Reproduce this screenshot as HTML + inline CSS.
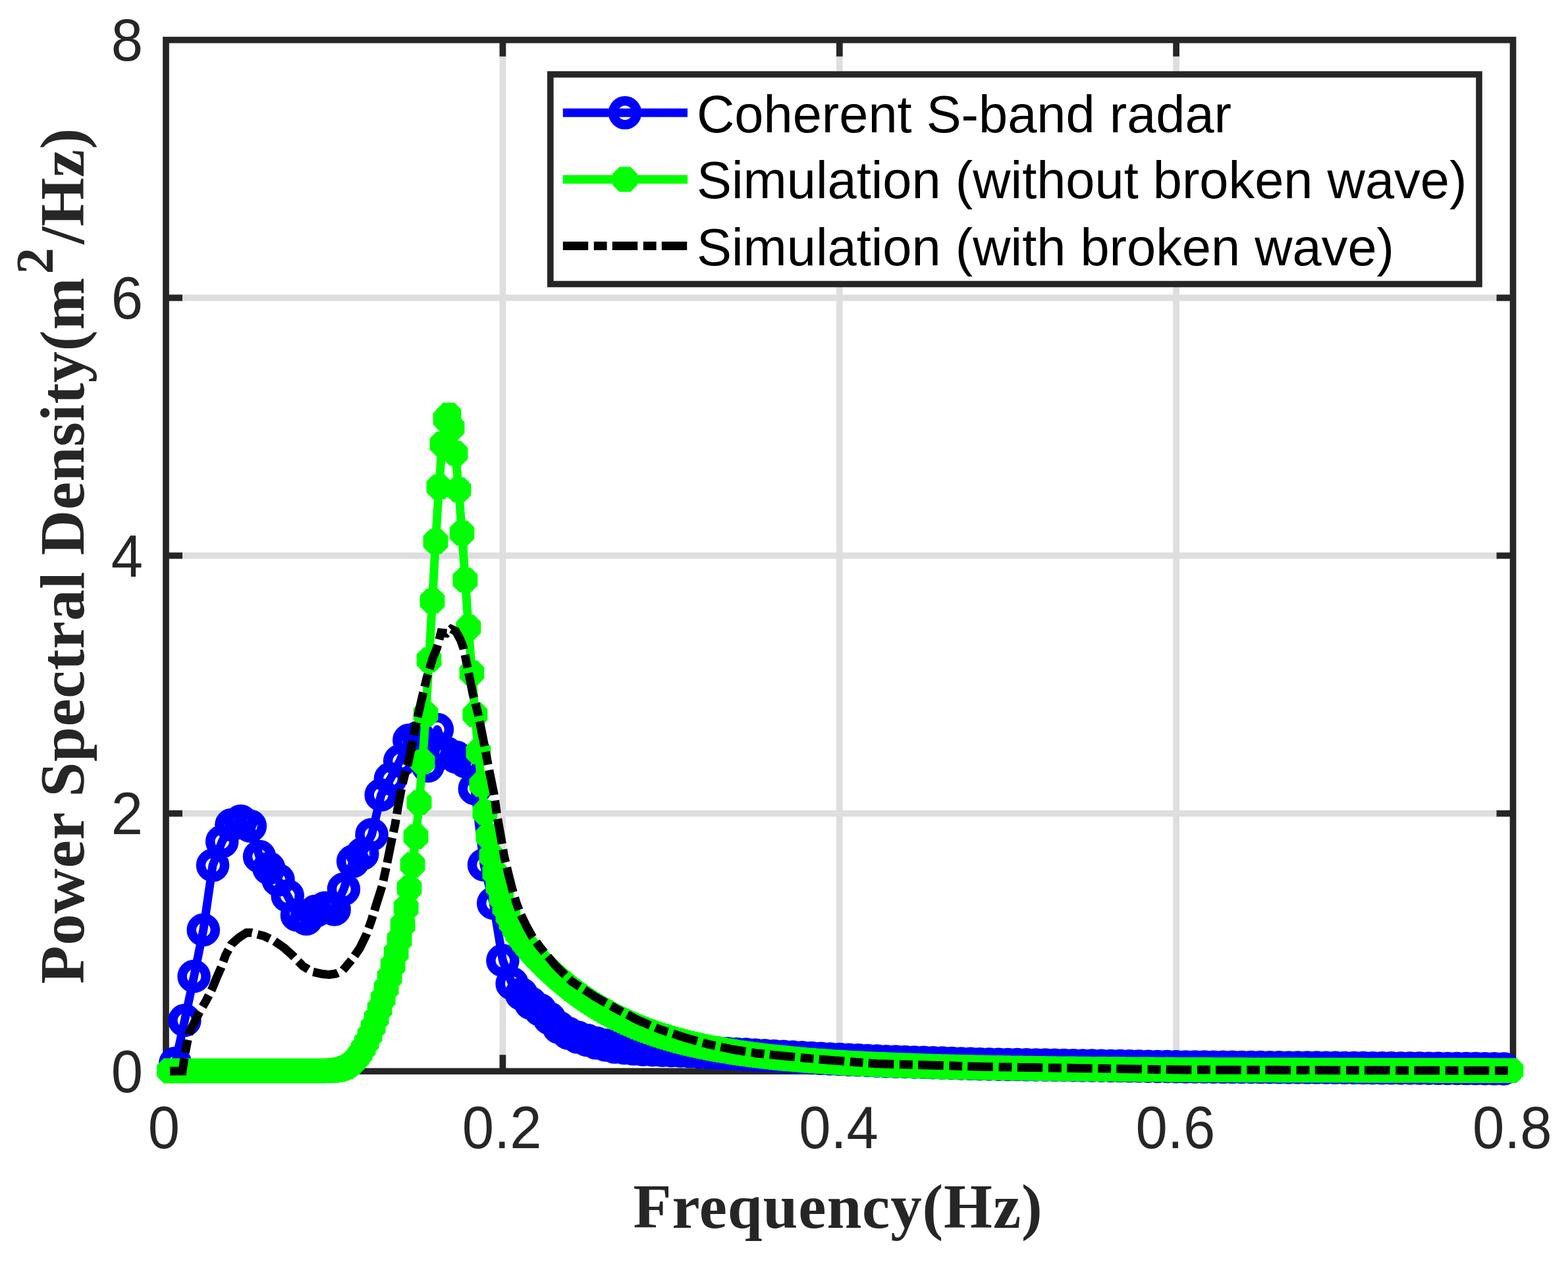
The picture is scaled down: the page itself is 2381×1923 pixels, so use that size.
<!DOCTYPE html><html><head><meta charset="utf-8"><title>PSD</title>
<style>html,body{margin:0;padding:0;background:#fff;}svg{display:block;}.tk{font-family:"Liberation Sans",Arial,sans-serif;font-size:90px;fill:#262626;}.lg{font-family:"Liberation Sans",Arial,sans-serif;font-size:79.4px;fill:#000;}.al{font-family:"Liberation Serif","Times New Roman",serif;font-weight:bold;font-size:95px;fill:#262626;}</style></head><body>
<svg xmlns="http://www.w3.org/2000/svg" width="2381" height="1923" viewBox="0 0 2381 1923">
<rect x="0" y="0" width="2381" height="1923" fill="#fff"/>
<path d="M763.4 60.7V1627.2M1274.8 60.7V1627.2M1786.1 60.7V1627.2M252 1235.6H2297.5M252 844H2297.5M252 452.3H2297.5" stroke="#dedede" stroke-width="9.7" fill="none"/>
<path d="M763.4 1627.2v-25M763.4 60.7v25M1274.8 1627.2v-25M1274.8 60.7v25M1786.1 1627.2v-25M1786.1 60.7v25M252 1235.6h25M2297.5 1235.6h-25M252 844h25M2297.5 844h-25M252 452.3h25M2297.5 452.3h-25" stroke="#262626" stroke-width="9.7" fill="none"/>
<rect x="252" y="60.7" width="2045.5" height="1566.5" stroke="#262626" stroke-width="9.7" fill="none"/>
<text class="tk" transform="translate(249 1744) scale(0.965 1)" text-anchor="middle">0</text>
<text class="tk" transform="translate(762.2 1744) scale(0.965 1)" text-anchor="middle">0.2</text>
<text class="tk" transform="translate(1273.5 1744) scale(0.965 1)" text-anchor="middle">0.4</text>
<text class="tk" transform="translate(1784.9 1744) scale(0.965 1)" text-anchor="middle">0.6</text>
<text class="tk" transform="translate(2296.3 1744) scale(0.965 1)" text-anchor="middle">0.8</text>
<text class="tk" transform="translate(217 1658.7) scale(0.965 1)" text-anchor="end">0</text>
<text class="tk" transform="translate(217 1267.1) scale(0.965 1)" text-anchor="end">2</text>
<text class="tk" transform="translate(217 875.5) scale(0.965 1)" text-anchor="end">4</text>
<text class="tk" transform="translate(217 483.8) scale(0.965 1)" text-anchor="end">6</text>
<text class="tk" transform="translate(217 92.2) scale(0.965 1)" text-anchor="end">8</text>
<text class="al" x="961.5" y="1865" letter-spacing="0.9">Frequency(Hz)</text>
<text class="al" transform="translate(126.8 1494.5) rotate(-90)" x="0" y="0" letter-spacing="0.6">Power Spectral Density(m<tspan dx="5" dy="-47" font-size="80px">2</tspan><tspan dx="5" dy="47">/Hz)</tspan></text>
<path d="M266.2 1615 280.4 1550 294.6 1483 308.8 1412.5 323 1314.3 337.2 1278.3 351.4 1253 365.6 1247.2 379.8 1254.7 394 1301 408.3 1318.8 422.5 1336.7 436.7 1360.7 450.9 1390 465.1 1396 479.3 1384 493.5 1379 507.7 1381.5 521.9 1350.6 536.1 1308.3 550.3 1297 564.5 1267.7 578.7 1207.5 592.9 1183 607.1 1156 621.3 1124.3 635.5 1120 649.7 1163.6 663.9 1108 678.1 1144 692.4 1150 706.6 1157 720.8 1198 735 1313.7 749.2 1372 763.4 1459 777.6 1494 791.8 1510 806 1524 820.2 1534 834.4 1547 848.6 1560.7 862.8 1569.4 877 1575.4 891.2 1580 905.4 1584.3 919.6 1587.5 933.8 1590.6 948 1591.9 962.2 1593.3 976.4 1594.5 990.7 1595 1004.9 1595.5 1019.1 1595.9 1033.3 1596.4 1047.5 1597.1 1061.7 1597.9 1075.9 1598.7 1090.1 1599.4 1104.3 1600.2 1118.5 1600.9 1132.7 1601.6 1146.9 1602.4 1161.1 1603.2 1175.3 1603.9 1189.5 1604.7 1203.7 1605.5 1217.9 1606.3 1232.1 1607.1 1246.3 1607.8 1260.5 1608.4 1274.8 1609.1 1289 1609.7 1303.2 1610.3 1317.4 1611 1331.6 1611.6 1345.8 1612.2 1360 1612.6 1374.2 1613 1388.4 1613.4 1402.6 1613.8 1416.8 1614.2 1431 1614.6 1445.2 1615 1459.4 1615.4 1473.6 1615.8 1487.8 1616.2 1502 1616.5 1516.2 1616.7 1530.4 1616.9 1544.6 1617.1 1558.8 1617.3 1573.1 1617.4 1587.3 1617.6 1601.5 1617.8 1615.7 1618 1629.9 1618.2 1644.1 1618.4 1658.3 1618.6 1672.5 1618.7 1686.7 1618.9 1700.9 1619.1 1715.1 1619.3 1729.3 1619.5 1743.5 1619.7 1757.7 1619.9 1771.9 1620 1786.1 1620.2 1800.3 1620.4 1814.5 1620.5 1828.7 1620.6 1842.9 1620.7 1857.1 1620.8 1871.4 1620.8 1885.6 1620.9 1899.8 1621 1914 1621.1 1928.2 1621.2 1942.4 1621.3 1956.6 1621.4 1970.8 1621.5 1985 1621.6 1999.2 1621.6 2013.4 1621.7 2027.6 1621.8 2041.8 1621.9 2056 1622 2070.2 1622.1 2084.4 1622.2 2098.6 1622.3 2112.8 1622.3 2127 1622.4 2141.2 1622.5 2155.5 1622.6 2169.7 1622.7 2183.9 1622.8 2198.1 1622.9 2212.3 1623 2226.5 1623.1 2240.7 1623.1 2254.9 1623.2 2269.1 1623.3 2283.3 1623.4 2297.5 1623.5" stroke="#0000ff" stroke-width="13" fill="none" stroke-linejoin="round"/>
<path d="M248.2 1615a18 18 0 1 0 36 0a18 18 0 1 0 -36 0M262.4 1550a18 18 0 1 0 36 0a18 18 0 1 0 -36 0M276.6 1483a18 18 0 1 0 36 0a18 18 0 1 0 -36 0M290.8 1412.5a18 18 0 1 0 36 0a18 18 0 1 0 -36 0M305 1314.3a18 18 0 1 0 36 0a18 18 0 1 0 -36 0M319.2 1278.3a18 18 0 1 0 36 0a18 18 0 1 0 -36 0M333.4 1253a18 18 0 1 0 36 0a18 18 0 1 0 -36 0M347.6 1247.2a18 18 0 1 0 36 0a18 18 0 1 0 -36 0M361.8 1254.7a18 18 0 1 0 36 0a18 18 0 1 0 -36 0M376 1301a18 18 0 1 0 36 0a18 18 0 1 0 -36 0M390.3 1318.8a18 18 0 1 0 36 0a18 18 0 1 0 -36 0M404.5 1336.7a18 18 0 1 0 36 0a18 18 0 1 0 -36 0M418.7 1360.7a18 18 0 1 0 36 0a18 18 0 1 0 -36 0M432.9 1390a18 18 0 1 0 36 0a18 18 0 1 0 -36 0M447.1 1396a18 18 0 1 0 36 0a18 18 0 1 0 -36 0M461.3 1384a18 18 0 1 0 36 0a18 18 0 1 0 -36 0M475.5 1379a18 18 0 1 0 36 0a18 18 0 1 0 -36 0M489.7 1381.5a18 18 0 1 0 36 0a18 18 0 1 0 -36 0M503.9 1350.6a18 18 0 1 0 36 0a18 18 0 1 0 -36 0M518.1 1308.3a18 18 0 1 0 36 0a18 18 0 1 0 -36 0M532.3 1297a18 18 0 1 0 36 0a18 18 0 1 0 -36 0M546.5 1267.7a18 18 0 1 0 36 0a18 18 0 1 0 -36 0M560.7 1207.5a18 18 0 1 0 36 0a18 18 0 1 0 -36 0M574.9 1183a18 18 0 1 0 36 0a18 18 0 1 0 -36 0M589.1 1156a18 18 0 1 0 36 0a18 18 0 1 0 -36 0M603.3 1124.3a18 18 0 1 0 36 0a18 18 0 1 0 -36 0M617.5 1120a18 18 0 1 0 36 0a18 18 0 1 0 -36 0M631.7 1163.6a18 18 0 1 0 36 0a18 18 0 1 0 -36 0M645.9 1108a18 18 0 1 0 36 0a18 18 0 1 0 -36 0M660.1 1144a18 18 0 1 0 36 0a18 18 0 1 0 -36 0M674.4 1150a18 18 0 1 0 36 0a18 18 0 1 0 -36 0M688.6 1157a18 18 0 1 0 36 0a18 18 0 1 0 -36 0M702.8 1198a18 18 0 1 0 36 0a18 18 0 1 0 -36 0M717 1313.7a18 18 0 1 0 36 0a18 18 0 1 0 -36 0M731.2 1372a18 18 0 1 0 36 0a18 18 0 1 0 -36 0M745.4 1459a18 18 0 1 0 36 0a18 18 0 1 0 -36 0M759.6 1494a18 18 0 1 0 36 0a18 18 0 1 0 -36 0M773.8 1510a18 18 0 1 0 36 0a18 18 0 1 0 -36 0M788 1524a18 18 0 1 0 36 0a18 18 0 1 0 -36 0M802.2 1534a18 18 0 1 0 36 0a18 18 0 1 0 -36 0M816.4 1547a18 18 0 1 0 36 0a18 18 0 1 0 -36 0M830.6 1560.7a18 18 0 1 0 36 0a18 18 0 1 0 -36 0M844.8 1569.4a18 18 0 1 0 36 0a18 18 0 1 0 -36 0M859 1575.4a18 18 0 1 0 36 0a18 18 0 1 0 -36 0M873.2 1580a18 18 0 1 0 36 0a18 18 0 1 0 -36 0M887.4 1584.3a18 18 0 1 0 36 0a18 18 0 1 0 -36 0M901.6 1587.5a18 18 0 1 0 36 0a18 18 0 1 0 -36 0M915.8 1590.6a18 18 0 1 0 36 0a18 18 0 1 0 -36 0M930 1591.9a18 18 0 1 0 36 0a18 18 0 1 0 -36 0M944.2 1593.3a18 18 0 1 0 36 0a18 18 0 1 0 -36 0M958.4 1594.5a18 18 0 1 0 36 0a18 18 0 1 0 -36 0M972.7 1595a18 18 0 1 0 36 0a18 18 0 1 0 -36 0M986.9 1595.5a18 18 0 1 0 36 0a18 18 0 1 0 -36 0M1001.1 1595.9a18 18 0 1 0 36 0a18 18 0 1 0 -36 0M1015.3 1596.4a18 18 0 1 0 36 0a18 18 0 1 0 -36 0M1029.5 1597.1a18 18 0 1 0 36 0a18 18 0 1 0 -36 0M1043.7 1597.9a18 18 0 1 0 36 0a18 18 0 1 0 -36 0M1057.9 1598.7a18 18 0 1 0 36 0a18 18 0 1 0 -36 0M1072.1 1599.4a18 18 0 1 0 36 0a18 18 0 1 0 -36 0M1086.3 1600.2a18 18 0 1 0 36 0a18 18 0 1 0 -36 0M1100.5 1600.9a18 18 0 1 0 36 0a18 18 0 1 0 -36 0M1114.7 1601.6a18 18 0 1 0 36 0a18 18 0 1 0 -36 0M1128.9 1602.4a18 18 0 1 0 36 0a18 18 0 1 0 -36 0M1143.1 1603.2a18 18 0 1 0 36 0a18 18 0 1 0 -36 0M1157.3 1603.9a18 18 0 1 0 36 0a18 18 0 1 0 -36 0M1171.5 1604.7a18 18 0 1 0 36 0a18 18 0 1 0 -36 0M1185.7 1605.5a18 18 0 1 0 36 0a18 18 0 1 0 -36 0M1199.9 1606.3a18 18 0 1 0 36 0a18 18 0 1 0 -36 0M1214.1 1607.1a18 18 0 1 0 36 0a18 18 0 1 0 -36 0M1228.3 1607.8a18 18 0 1 0 36 0a18 18 0 1 0 -36 0M1242.5 1608.4a18 18 0 1 0 36 0a18 18 0 1 0 -36 0M1256.8 1609.1a18 18 0 1 0 36 0a18 18 0 1 0 -36 0M1271 1609.7a18 18 0 1 0 36 0a18 18 0 1 0 -36 0M1285.2 1610.3a18 18 0 1 0 36 0a18 18 0 1 0 -36 0M1299.4 1611a18 18 0 1 0 36 0a18 18 0 1 0 -36 0M1313.6 1611.6a18 18 0 1 0 36 0a18 18 0 1 0 -36 0M1327.8 1612.2a18 18 0 1 0 36 0a18 18 0 1 0 -36 0M1342 1612.6a18 18 0 1 0 36 0a18 18 0 1 0 -36 0M1356.2 1613a18 18 0 1 0 36 0a18 18 0 1 0 -36 0M1370.4 1613.4a18 18 0 1 0 36 0a18 18 0 1 0 -36 0M1384.6 1613.8a18 18 0 1 0 36 0a18 18 0 1 0 -36 0M1398.8 1614.2a18 18 0 1 0 36 0a18 18 0 1 0 -36 0M1413 1614.6a18 18 0 1 0 36 0a18 18 0 1 0 -36 0M1427.2 1615a18 18 0 1 0 36 0a18 18 0 1 0 -36 0M1441.4 1615.4a18 18 0 1 0 36 0a18 18 0 1 0 -36 0M1455.6 1615.8a18 18 0 1 0 36 0a18 18 0 1 0 -36 0M1469.8 1616.2a18 18 0 1 0 36 0a18 18 0 1 0 -36 0M1484 1616.5a18 18 0 1 0 36 0a18 18 0 1 0 -36 0M1498.2 1616.7a18 18 0 1 0 36 0a18 18 0 1 0 -36 0M1512.4 1616.9a18 18 0 1 0 36 0a18 18 0 1 0 -36 0M1526.6 1617.1a18 18 0 1 0 36 0a18 18 0 1 0 -36 0M1540.8 1617.3a18 18 0 1 0 36 0a18 18 0 1 0 -36 0M1555.1 1617.4a18 18 0 1 0 36 0a18 18 0 1 0 -36 0M1569.3 1617.6a18 18 0 1 0 36 0a18 18 0 1 0 -36 0M1583.5 1617.8a18 18 0 1 0 36 0a18 18 0 1 0 -36 0M1597.7 1618a18 18 0 1 0 36 0a18 18 0 1 0 -36 0M1611.9 1618.2a18 18 0 1 0 36 0a18 18 0 1 0 -36 0M1626.1 1618.4a18 18 0 1 0 36 0a18 18 0 1 0 -36 0M1640.3 1618.6a18 18 0 1 0 36 0a18 18 0 1 0 -36 0M1654.5 1618.7a18 18 0 1 0 36 0a18 18 0 1 0 -36 0M1668.7 1618.9a18 18 0 1 0 36 0a18 18 0 1 0 -36 0M1682.9 1619.1a18 18 0 1 0 36 0a18 18 0 1 0 -36 0M1697.1 1619.3a18 18 0 1 0 36 0a18 18 0 1 0 -36 0M1711.3 1619.5a18 18 0 1 0 36 0a18 18 0 1 0 -36 0M1725.5 1619.7a18 18 0 1 0 36 0a18 18 0 1 0 -36 0M1739.7 1619.9a18 18 0 1 0 36 0a18 18 0 1 0 -36 0M1753.9 1620a18 18 0 1 0 36 0a18 18 0 1 0 -36 0M1768.1 1620.2a18 18 0 1 0 36 0a18 18 0 1 0 -36 0M1782.3 1620.4a18 18 0 1 0 36 0a18 18 0 1 0 -36 0M1796.5 1620.5a18 18 0 1 0 36 0a18 18 0 1 0 -36 0M1810.7 1620.6a18 18 0 1 0 36 0a18 18 0 1 0 -36 0M1824.9 1620.7a18 18 0 1 0 36 0a18 18 0 1 0 -36 0M1839.1 1620.8a18 18 0 1 0 36 0a18 18 0 1 0 -36 0M1853.4 1620.8a18 18 0 1 0 36 0a18 18 0 1 0 -36 0M1867.6 1620.9a18 18 0 1 0 36 0a18 18 0 1 0 -36 0M1881.8 1621a18 18 0 1 0 36 0a18 18 0 1 0 -36 0M1896 1621.1a18 18 0 1 0 36 0a18 18 0 1 0 -36 0M1910.2 1621.2a18 18 0 1 0 36 0a18 18 0 1 0 -36 0M1924.4 1621.3a18 18 0 1 0 36 0a18 18 0 1 0 -36 0M1938.6 1621.4a18 18 0 1 0 36 0a18 18 0 1 0 -36 0M1952.8 1621.5a18 18 0 1 0 36 0a18 18 0 1 0 -36 0M1967 1621.6a18 18 0 1 0 36 0a18 18 0 1 0 -36 0M1981.2 1621.6a18 18 0 1 0 36 0a18 18 0 1 0 -36 0M1995.4 1621.7a18 18 0 1 0 36 0a18 18 0 1 0 -36 0M2009.6 1621.8a18 18 0 1 0 36 0a18 18 0 1 0 -36 0M2023.8 1621.9a18 18 0 1 0 36 0a18 18 0 1 0 -36 0M2038 1622a18 18 0 1 0 36 0a18 18 0 1 0 -36 0M2052.2 1622.1a18 18 0 1 0 36 0a18 18 0 1 0 -36 0M2066.4 1622.2a18 18 0 1 0 36 0a18 18 0 1 0 -36 0M2080.6 1622.3a18 18 0 1 0 36 0a18 18 0 1 0 -36 0M2094.8 1622.3a18 18 0 1 0 36 0a18 18 0 1 0 -36 0M2109 1622.4a18 18 0 1 0 36 0a18 18 0 1 0 -36 0M2123.2 1622.5a18 18 0 1 0 36 0a18 18 0 1 0 -36 0M2137.5 1622.6a18 18 0 1 0 36 0a18 18 0 1 0 -36 0M2151.7 1622.7a18 18 0 1 0 36 0a18 18 0 1 0 -36 0M2165.9 1622.8a18 18 0 1 0 36 0a18 18 0 1 0 -36 0M2180.1 1622.9a18 18 0 1 0 36 0a18 18 0 1 0 -36 0M2194.3 1623a18 18 0 1 0 36 0a18 18 0 1 0 -36 0M2208.5 1623.1a18 18 0 1 0 36 0a18 18 0 1 0 -36 0M2222.7 1623.1a18 18 0 1 0 36 0a18 18 0 1 0 -36 0M2236.9 1623.2a18 18 0 1 0 36 0a18 18 0 1 0 -36 0M2251.1 1623.3a18 18 0 1 0 36 0a18 18 0 1 0 -36 0M2265.3 1623.4a18 18 0 1 0 36 0a18 18 0 1 0 -36 0" stroke="#0000ff" stroke-width="14.5" fill="none"/>
<path d="M257 1626.5 262 1626.5 267 1626.5 272 1626.5 277 1626.5 282 1626.5 287 1626.5 292 1626.5 296.9 1626.5 301.9 1626.5 306.9 1626.5 311.9 1626.5 316.9 1626.5 321.9 1626.5 326.9 1626.5 331.9 1626.5 336.9 1626.5 341.9 1626.5 346.9 1626.5 351.9 1626.5 356.9 1626.5 361.9 1626.5 366.9 1626.5 371.9 1626.5 376.8 1626.5 381.8 1626.5 386.8 1626.5 391.8 1626.5 396.8 1626.5 401.8 1626.5 406.8 1626.5 411.8 1626.5 416.8 1626.5 421.8 1626.5 426.8 1626.5 431.8 1626.5 436.8 1626.5 441.8 1626.5 446.8 1626.5 451.8 1626.5 456.7 1626.5 461.7 1626.5 466.7 1626.5 471.7 1626.5 476.7 1626.5 481.7 1626.5 486.7 1626.5 491.7 1626.4 496.7 1626.4 501.7 1626.2 506.7 1625.8 511.7 1625.2 516.7 1624.3 521.7 1622.7 526.7 1620.5 531.7 1617.3 536.7 1613.1 541.6 1607.7 546.6 1600.9 551.6 1592.7 556.6 1583.2 561.6 1572.2 566.6 1560 571.6 1546.7 576.6 1532.3 581.6 1517.1 586.6 1501 591.6 1484.2 596.6 1466.5 601.6 1447.6 606.6 1427.2 611.6 1404.7 616.6 1379 621.5 1349.1 626.5 1313.5 631.5 1270.8 636.5 1219.1 641.5 1157.4 646.5 1084.8 651.5 1002.3 656.5 912.9 661.5 822.5 666.5 739.6 671.5 674.4 676.5 636.3 681.5 630.5 686.5 649.5 691.5 688.7 696.5 743.9 701.5 809.8 706.4 881.1 711.4 953 716.4 1022 721.4 1085.5 726.4 1142.2 731.4 1191.7 736.4 1234.1 741.4 1270 746.4 1300.2 751.4 1325.4 756.4 1346.4 761.4 1364 766.4 1378.8 771.4 1391.3 776.4 1402 781.4 1411.4 786.3 1419.6 791.3 1427 796.3 1433.8 801.3 1440.1 806.3 1446 811.3 1451.5 816.3 1456.9 821.3 1462 826.3 1467 831.3 1471.8 836.3 1476.4 841.3 1481 846.3 1485.4 851.3 1489.7 856.3 1493.8 861.3 1497.9 866.2 1501.8 871.2 1505.7 876.2 1509.4 881.2 1513 886.2 1516.4 891.2 1519.8 896.2 1523.1 901.2 1526.3 906.2 1529.4 911.2 1532.4 916.2 1535.2 921.2 1538 926.2 1540.7 931.2 1543.4 936.2 1545.9 941.2 1548.3 946.2 1550.7 951.1 1553 956.1 1555.2 961.1 1557.4 966.1 1559.5 971.1 1561.5 976.1 1563.4 981.1 1565.3 986.1 1567.1 991.1 1568.9 996.1 1570.6 1001.1 1572.2 1006.1 1573.8 1011.1 1575.3 1016.1 1576.8 1021.1 1578.3 1026.1 1579.7 1031 1581 1036 1582.3 1041 1583.6 1046 1584.8 1051 1586 1056 1587.1 1061 1588.2 1066 1589.3 1071 1590.3 1076 1591.3 1081 1592.3 1086 1593.3 1091 1594.2 1096 1595 1101 1595.9 1106 1596.7 1111 1597.5 1115.9 1598.3 1120.9 1599.1 1125.9 1599.8 1130.9 1600.5 1135.9 1601.2 1140.9 1601.9 1145.9 1602.5 1150.9 1603.1 1155.9 1603.7 1160.9 1604.3 1165.9 1604.9 1170.9 1605.4 1175.9 1606 1180.9 1606.5 1185.9 1607 1190.9 1607.5 1195.8 1608 1200.8 1608.4 1205.8 1608.9 1210.8 1609.3 1215.8 1609.7 1220.8 1610.2 1225.8 1610.6 1230.8 1610.9 1235.8 1611.3 1240.8 1611.7 1245.8 1612 1250.8 1612.4 1255.8 1612.7 1260.8 1613.1 1265.8 1613.4 1270.8 1613.7 1275.7 1614 1280.7 1614.3 1285.7 1614.6 1290.7 1614.8 1295.7 1615.1 1300.7 1615.4 1305.7 1615.6 1310.7 1615.9 1315.7 1616.1 1320.7 1616.3 1325.7 1616.6 1330.7 1616.8 1335.7 1617 1340.7 1617.2 1345.7 1617.4 1350.7 1617.6 1355.7 1617.8 1360.6 1618 1365.6 1618.2 1370.6 1618.4 1375.6 1618.5 1380.6 1618.7 1385.6 1618.9 1390.6 1619 1395.6 1619.2 1400.6 1619.4 1405.6 1619.5 1410.6 1619.7 1415.6 1619.8 1420.6 1619.9 1425.6 1620.1 1430.6 1620.2 1435.6 1620.3 1440.5 1620.5 1445.5 1620.6 1450.5 1620.7 1455.5 1620.8 1460.5 1620.9 1465.5 1621 1470.5 1621.2 1475.5 1621.3 1480.5 1621.4 1485.5 1621.5 1490.5 1621.6 1495.5 1621.7 1500.5 1621.8 1505.5 1621.9 1510.5 1621.9 1515.5 1622 1520.4 1622.1 1525.4 1622.2 1530.4 1622.3 1535.4 1622.4 1540.4 1622.4 1545.4 1622.5 1550.4 1622.6 1555.4 1622.7 1560.4 1622.7 1565.4 1622.8 1570.4 1622.9 1575.4 1622.9 1580.4 1623 1585.4 1623.1 1590.4 1623.1 1595.4 1623.2 1600.4 1623.3 1605.3 1623.3 1610.3 1623.4 1615.3 1623.4 1620.3 1623.5 1625.3 1623.5 1630.3 1623.6 1635.3 1623.6 1640.3 1623.7 1645.3 1623.7 1650.3 1623.8 1655.3 1623.8 1660.3 1623.9 1665.3 1623.9 1670.3 1624 1675.3 1624 1680.3 1624.1 1685.2 1624.1 1690.2 1624.1 1695.2 1624.2 1700.2 1624.2 1705.2 1624.3 1710.2 1624.3 1715.2 1624.3 1720.2 1624.4 1725.2 1624.4 1730.2 1624.4 1735.2 1624.5 1740.2 1624.5 1745.2 1624.5 1750.2 1624.6 1755.2 1624.6 1760.2 1624.6 1765.2 1624.7 1770.1 1624.7 1775.1 1624.7 1780.1 1624.8 1785.1 1624.8 1790.1 1624.8 1795.1 1624.8 1800.1 1624.9 1805.1 1624.9 1810.1 1624.9 1815.1 1624.9 1820.1 1625 1825.1 1625 1830.1 1625 1835.1 1625 1840.1 1625.1 1845.1 1625.1 1850 1625.1 1855 1625.1 1860 1625.1 1865 1625.2 1870 1625.2 1875 1625.2 1880 1625.2 1885 1625.2 1890 1625.3 1895 1625.3 1900 1625.3 1905 1625.3 1910 1625.3 1915 1625.4 1920 1625.4 1925 1625.4 1929.9 1625.4 1934.9 1625.4 1939.9 1625.4 1944.9 1625.5 1949.9 1625.5 1954.9 1625.5 1959.9 1625.5 1964.9 1625.5 1969.9 1625.5 1974.9 1625.5 1979.9 1625.6 1984.9 1625.6 1989.9 1625.6 1994.9 1625.6 1999.9 1625.6 2004.9 1625.6 2009.9 1625.6 2014.8 1625.6 2019.8 1625.7 2024.8 1625.7 2029.8 1625.7 2034.8 1625.7 2039.8 1625.7 2044.8 1625.7 2049.8 1625.7 2054.8 1625.7 2059.8 1625.7 2064.8 1625.8 2069.8 1625.8 2074.8 1625.8 2079.8 1625.8 2084.8 1625.8 2089.8 1625.8 2094.7 1625.8 2099.7 1625.8 2104.7 1625.8 2109.7 1625.8 2114.7 1625.9 2119.7 1625.9 2124.7 1625.9 2129.7 1625.9 2134.7 1625.9 2139.7 1625.9 2144.7 1625.9 2149.7 1625.9 2154.7 1625.9 2159.7 1625.9 2164.7 1625.9 2169.7 1625.9 2174.7 1625.9 2179.6 1626 2184.6 1626 2189.6 1626 2194.6 1626 2199.6 1626 2204.6 1626 2209.6 1626 2214.6 1626 2219.6 1626 2224.6 1626 2229.6 1626 2234.6 1626 2239.6 1626 2244.6 1626 2249.6 1626 2254.6 1626 2259.5 1626.1 2264.5 1626.1 2269.5 1626.1 2274.5 1626.1 2279.5 1626.1 2284.5 1626.1 2289.5 1626.1 2294.5 1626.1 2297.5 1626.1" stroke="#00ff00" stroke-width="13" fill="none" stroke-linejoin="round"/>
<path d="M248.5 1607.6h17l10.4 10.4v17l-10.4 10.4h-17l-10.4 -10.4v-17l10.4 -10.4zM253.5 1607.6h17l10.4 10.4v17l-10.4 10.4h-17l-10.4 -10.4v-17l10.4 -10.4zM258.5 1607.6h17l10.4 10.4v17l-10.4 10.4h-17l-10.4 -10.4v-17l10.4 -10.4zM263.5 1607.6h17l10.4 10.4v17l-10.4 10.4h-17l-10.4 -10.4v-17l10.4 -10.4zM268.5 1607.6h17l10.4 10.4v17l-10.4 10.4h-17l-10.4 -10.4v-17l10.4 -10.4zM273.5 1607.6h17l10.4 10.4v17l-10.4 10.4h-17l-10.4 -10.4v-17l10.4 -10.4zM278.5 1607.6h17l10.4 10.4v17l-10.4 10.4h-17l-10.4 -10.4v-17l10.4 -10.4zM283.5 1607.6h17l10.4 10.4v17l-10.4 10.4h-17l-10.4 -10.4v-17l10.4 -10.4zM288.4 1607.6h17l10.4 10.4v17l-10.4 10.4h-17l-10.4 -10.4v-17l10.4 -10.4zM293.4 1607.6h17l10.4 10.4v17l-10.4 10.4h-17l-10.4 -10.4v-17l10.4 -10.4zM298.4 1607.6h17l10.4 10.4v17l-10.4 10.4h-17l-10.4 -10.4v-17l10.4 -10.4zM303.4 1607.6h17l10.4 10.4v17l-10.4 10.4h-17l-10.4 -10.4v-17l10.4 -10.4zM308.4 1607.6h17l10.4 10.4v17l-10.4 10.4h-17l-10.4 -10.4v-17l10.4 -10.4zM313.4 1607.6h17l10.4 10.4v17l-10.4 10.4h-17l-10.4 -10.4v-17l10.4 -10.4zM318.4 1607.6h17l10.4 10.4v17l-10.4 10.4h-17l-10.4 -10.4v-17l10.4 -10.4zM323.4 1607.6h17l10.4 10.4v17l-10.4 10.4h-17l-10.4 -10.4v-17l10.4 -10.4zM328.4 1607.6h17l10.4 10.4v17l-10.4 10.4h-17l-10.4 -10.4v-17l10.4 -10.4zM333.4 1607.6h17l10.4 10.4v17l-10.4 10.4h-17l-10.4 -10.4v-17l10.4 -10.4zM338.4 1607.6h17l10.4 10.4v17l-10.4 10.4h-17l-10.4 -10.4v-17l10.4 -10.4zM343.4 1607.6h17l10.4 10.4v17l-10.4 10.4h-17l-10.4 -10.4v-17l10.4 -10.4zM348.4 1607.6h17l10.4 10.4v17l-10.4 10.4h-17l-10.4 -10.4v-17l10.4 -10.4zM353.4 1607.6h17l10.4 10.4v17l-10.4 10.4h-17l-10.4 -10.4v-17l10.4 -10.4zM358.4 1607.6h17l10.4 10.4v17l-10.4 10.4h-17l-10.4 -10.4v-17l10.4 -10.4zM363.4 1607.6h17l10.4 10.4v17l-10.4 10.4h-17l-10.4 -10.4v-17l10.4 -10.4zM368.3 1607.6h17l10.4 10.4v17l-10.4 10.4h-17l-10.4 -10.4v-17l10.4 -10.4zM373.3 1607.6h17l10.4 10.4v17l-10.4 10.4h-17l-10.4 -10.4v-17l10.4 -10.4zM378.3 1607.6h17l10.4 10.4v17l-10.4 10.4h-17l-10.4 -10.4v-17l10.4 -10.4zM383.3 1607.6h17l10.4 10.4v17l-10.4 10.4h-17l-10.4 -10.4v-17l10.4 -10.4zM388.3 1607.6h17l10.4 10.4v17l-10.4 10.4h-17l-10.4 -10.4v-17l10.4 -10.4zM393.3 1607.6h17l10.4 10.4v17l-10.4 10.4h-17l-10.4 -10.4v-17l10.4 -10.4zM398.3 1607.6h17l10.4 10.4v17l-10.4 10.4h-17l-10.4 -10.4v-17l10.4 -10.4zM403.3 1607.6h17l10.4 10.4v17l-10.4 10.4h-17l-10.4 -10.4v-17l10.4 -10.4zM408.3 1607.6h17l10.4 10.4v17l-10.4 10.4h-17l-10.4 -10.4v-17l10.4 -10.4zM413.3 1607.6h17l10.4 10.4v17l-10.4 10.4h-17l-10.4 -10.4v-17l10.4 -10.4zM418.3 1607.6h17l10.4 10.4v17l-10.4 10.4h-17l-10.4 -10.4v-17l10.4 -10.4zM423.3 1607.6h17l10.4 10.4v17l-10.4 10.4h-17l-10.4 -10.4v-17l10.4 -10.4zM428.3 1607.6h17l10.4 10.4v17l-10.4 10.4h-17l-10.4 -10.4v-17l10.4 -10.4zM433.3 1607.6h17l10.4 10.4v17l-10.4 10.4h-17l-10.4 -10.4v-17l10.4 -10.4zM438.3 1607.6h17l10.4 10.4v17l-10.4 10.4h-17l-10.4 -10.4v-17l10.4 -10.4zM443.3 1607.6h17l10.4 10.4v17l-10.4 10.4h-17l-10.4 -10.4v-17l10.4 -10.4zM448.2 1607.6h17l10.4 10.4v17l-10.4 10.4h-17l-10.4 -10.4v-17l10.4 -10.4zM453.2 1607.6h17l10.4 10.4v17l-10.4 10.4h-17l-10.4 -10.4v-17l10.4 -10.4zM458.2 1607.6h17l10.4 10.4v17l-10.4 10.4h-17l-10.4 -10.4v-17l10.4 -10.4zM463.2 1607.6h17l10.4 10.4v17l-10.4 10.4h-17l-10.4 -10.4v-17l10.4 -10.4zM468.2 1607.6h17l10.4 10.4v17l-10.4 10.4h-17l-10.4 -10.4v-17l10.4 -10.4zM473.2 1607.6h17l10.4 10.4v17l-10.4 10.4h-17l-10.4 -10.4v-17l10.4 -10.4zM478.2 1607.6h17l10.4 10.4v17l-10.4 10.4h-17l-10.4 -10.4v-17l10.4 -10.4zM483.2 1607.5h17l10.4 10.4v17l-10.4 10.4h-17l-10.4 -10.4v-17l10.4 -10.4zM488.2 1607.5h17l10.4 10.4v17l-10.4 10.4h-17l-10.4 -10.4v-17l10.4 -10.4zM493.2 1607.3h17l10.4 10.4v17l-10.4 10.4h-17l-10.4 -10.4v-17l10.4 -10.4zM498.2 1606.9h17l10.4 10.4v17l-10.4 10.4h-17l-10.4 -10.4v-17l10.4 -10.4zM503.2 1606.3h17l10.4 10.4v17l-10.4 10.4h-17l-10.4 -10.4v-17l10.4 -10.4zM508.2 1605.4h17l10.4 10.4v17l-10.4 10.4h-17l-10.4 -10.4v-17l10.4 -10.4zM513.2 1603.8h17l10.4 10.4v17l-10.4 10.4h-17l-10.4 -10.4v-17l10.4 -10.4zM518.2 1601.6h17l10.4 10.4v17l-10.4 10.4h-17l-10.4 -10.4v-17l10.4 -10.4zM523.2 1598.4h17l10.4 10.4v17l-10.4 10.4h-17l-10.4 -10.4v-17l10.4 -10.4zM528.2 1594.2h17l10.4 10.4v17l-10.4 10.4h-17l-10.4 -10.4v-17l10.4 -10.4zM533.1 1588.8h17l10.4 10.4v17l-10.4 10.4h-17l-10.4 -10.4v-17l10.4 -10.4zM538.1 1582h17l10.4 10.4v17l-10.4 10.4h-17l-10.4 -10.4v-17l10.4 -10.4zM543.1 1573.8h17l10.4 10.4v17l-10.4 10.4h-17l-10.4 -10.4v-17l10.4 -10.4zM548.1 1564.3h17l10.4 10.4v17l-10.4 10.4h-17l-10.4 -10.4v-17l10.4 -10.4zM553.1 1553.3h17l10.4 10.4v17l-10.4 10.4h-17l-10.4 -10.4v-17l10.4 -10.4zM558.1 1541.1h17l10.4 10.4v17l-10.4 10.4h-17l-10.4 -10.4v-17l10.4 -10.4zM563.1 1527.8h17l10.4 10.4v17l-10.4 10.4h-17l-10.4 -10.4v-17l10.4 -10.4zM568.1 1513.4h17l10.4 10.4v17l-10.4 10.4h-17l-10.4 -10.4v-17l10.4 -10.4zM573.1 1498.2h17l10.4 10.4v17l-10.4 10.4h-17l-10.4 -10.4v-17l10.4 -10.4zM578.1 1482.1h17l10.4 10.4v17l-10.4 10.4h-17l-10.4 -10.4v-17l10.4 -10.4zM583.1 1465.3h17l10.4 10.4v17l-10.4 10.4h-17l-10.4 -10.4v-17l10.4 -10.4zM588.1 1447.6h17l10.4 10.4v17l-10.4 10.4h-17l-10.4 -10.4v-17l10.4 -10.4zM593.1 1428.7h17l10.4 10.4v17l-10.4 10.4h-17l-10.4 -10.4v-17l10.4 -10.4zM598.1 1408.3h17l10.4 10.4v17l-10.4 10.4h-17l-10.4 -10.4v-17l10.4 -10.4zM603.1 1385.8h17l10.4 10.4v17l-10.4 10.4h-17l-10.4 -10.4v-17l10.4 -10.4zM608.1 1360.1h17l10.4 10.4v17l-10.4 10.4h-17l-10.4 -10.4v-17l10.4 -10.4zM613 1330.2h17l10.4 10.4v17l-10.4 10.4h-17l-10.4 -10.4v-17l10.4 -10.4zM618 1294.6h17l10.4 10.4v17l-10.4 10.4h-17l-10.4 -10.4v-17l10.4 -10.4zM623 1251.9h17l10.4 10.4v17l-10.4 10.4h-17l-10.4 -10.4v-17l10.4 -10.4zM628 1200.2h17l10.4 10.4v17l-10.4 10.4h-17l-10.4 -10.4v-17l10.4 -10.4zM633 1138.5h17l10.4 10.4v17l-10.4 10.4h-17l-10.4 -10.4v-17l10.4 -10.4zM638 1065.9h17l10.4 10.4v17l-10.4 10.4h-17l-10.4 -10.4v-17l10.4 -10.4zM643 983.4h17l10.4 10.4v17l-10.4 10.4h-17l-10.4 -10.4v-17l10.4 -10.4zM648 894h17l10.4 10.4v17l-10.4 10.4h-17l-10.4 -10.4v-17l10.4 -10.4zM653 803.6h17l10.4 10.4v17l-10.4 10.4h-17l-10.4 -10.4v-17l10.4 -10.4zM658 720.7h17l10.4 10.4v17l-10.4 10.4h-17l-10.4 -10.4v-17l10.4 -10.4zM663 655.5h17l10.4 10.4v17l-10.4 10.4h-17l-10.4 -10.4v-17l10.4 -10.4zM668 617.4h17l10.4 10.4v17l-10.4 10.4h-17l-10.4 -10.4v-17l10.4 -10.4zM673 611.6h17l10.4 10.4v17l-10.4 10.4h-17l-10.4 -10.4v-17l10.4 -10.4zM678 630.6h17l10.4 10.4v17l-10.4 10.4h-17l-10.4 -10.4v-17l10.4 -10.4zM683 669.8h17l10.4 10.4v17l-10.4 10.4h-17l-10.4 -10.4v-17l10.4 -10.4zM688 725h17l10.4 10.4v17l-10.4 10.4h-17l-10.4 -10.4v-17l10.4 -10.4zM693 790.9h17l10.4 10.4v17l-10.4 10.4h-17l-10.4 -10.4v-17l10.4 -10.4zM697.9 862.2h17l10.4 10.4v17l-10.4 10.4h-17l-10.4 -10.4v-17l10.4 -10.4zM702.9 934.1h17l10.4 10.4v17l-10.4 10.4h-17l-10.4 -10.4v-17l10.4 -10.4zM707.9 1003.1h17l10.4 10.4v17l-10.4 10.4h-17l-10.4 -10.4v-17l10.4 -10.4zM712.9 1066.6h17l10.4 10.4v17l-10.4 10.4h-17l-10.4 -10.4v-17l10.4 -10.4zM717.9 1123.3h17l10.4 10.4v17l-10.4 10.4h-17l-10.4 -10.4v-17l10.4 -10.4zM722.9 1172.8h17l10.4 10.4v17l-10.4 10.4h-17l-10.4 -10.4v-17l10.4 -10.4zM727.9 1215.2h17l10.4 10.4v17l-10.4 10.4h-17l-10.4 -10.4v-17l10.4 -10.4zM732.9 1251.1h17l10.4 10.4v17l-10.4 10.4h-17l-10.4 -10.4v-17l10.4 -10.4zM737.9 1281.3h17l10.4 10.4v17l-10.4 10.4h-17l-10.4 -10.4v-17l10.4 -10.4zM742.9 1306.5h17l10.4 10.4v17l-10.4 10.4h-17l-10.4 -10.4v-17l10.4 -10.4zM747.9 1327.5h17l10.4 10.4v17l-10.4 10.4h-17l-10.4 -10.4v-17l10.4 -10.4zM752.9 1345.1h17l10.4 10.4v17l-10.4 10.4h-17l-10.4 -10.4v-17l10.4 -10.4zM757.9 1359.9h17l10.4 10.4v17l-10.4 10.4h-17l-10.4 -10.4v-17l10.4 -10.4zM762.9 1372.4h17l10.4 10.4v17l-10.4 10.4h-17l-10.4 -10.4v-17l10.4 -10.4zM767.9 1383.1h17l10.4 10.4v17l-10.4 10.4h-17l-10.4 -10.4v-17l10.4 -10.4zM772.9 1392.5h17l10.4 10.4v17l-10.4 10.4h-17l-10.4 -10.4v-17l10.4 -10.4zM777.8 1400.7h17l10.4 10.4v17l-10.4 10.4h-17l-10.4 -10.4v-17l10.4 -10.4zM782.8 1408.1h17l10.4 10.4v17l-10.4 10.4h-17l-10.4 -10.4v-17l10.4 -10.4zM787.8 1414.9h17l10.4 10.4v17l-10.4 10.4h-17l-10.4 -10.4v-17l10.4 -10.4zM792.8 1421.2h17l10.4 10.4v17l-10.4 10.4h-17l-10.4 -10.4v-17l10.4 -10.4zM797.8 1427.1h17l10.4 10.4v17l-10.4 10.4h-17l-10.4 -10.4v-17l10.4 -10.4zM802.8 1432.6h17l10.4 10.4v17l-10.4 10.4h-17l-10.4 -10.4v-17l10.4 -10.4zM807.8 1438h17l10.4 10.4v17l-10.4 10.4h-17l-10.4 -10.4v-17l10.4 -10.4zM812.8 1443.1h17l10.4 10.4v17l-10.4 10.4h-17l-10.4 -10.4v-17l10.4 -10.4zM817.8 1448.1h17l10.4 10.4v17l-10.4 10.4h-17l-10.4 -10.4v-17l10.4 -10.4zM822.8 1452.9h17l10.4 10.4v17l-10.4 10.4h-17l-10.4 -10.4v-17l10.4 -10.4zM827.8 1457.5h17l10.4 10.4v17l-10.4 10.4h-17l-10.4 -10.4v-17l10.4 -10.4zM832.8 1462.1h17l10.4 10.4v17l-10.4 10.4h-17l-10.4 -10.4v-17l10.4 -10.4zM837.8 1466.5h17l10.4 10.4v17l-10.4 10.4h-17l-10.4 -10.4v-17l10.4 -10.4zM842.8 1470.8h17l10.4 10.4v17l-10.4 10.4h-17l-10.4 -10.4v-17l10.4 -10.4zM847.8 1474.9h17l10.4 10.4v17l-10.4 10.4h-17l-10.4 -10.4v-17l10.4 -10.4zM852.8 1479h17l10.4 10.4v17l-10.4 10.4h-17l-10.4 -10.4v-17l10.4 -10.4zM857.7 1482.9h17l10.4 10.4v17l-10.4 10.4h-17l-10.4 -10.4v-17l10.4 -10.4zM862.7 1486.8h17l10.4 10.4v17l-10.4 10.4h-17l-10.4 -10.4v-17l10.4 -10.4zM867.7 1490.5h17l10.4 10.4v17l-10.4 10.4h-17l-10.4 -10.4v-17l10.4 -10.4zM872.7 1494.1h17l10.4 10.4v17l-10.4 10.4h-17l-10.4 -10.4v-17l10.4 -10.4zM877.7 1497.5h17l10.4 10.4v17l-10.4 10.4h-17l-10.4 -10.4v-17l10.4 -10.4zM882.7 1500.9h17l10.4 10.4v17l-10.4 10.4h-17l-10.4 -10.4v-17l10.4 -10.4zM887.7 1504.2h17l10.4 10.4v17l-10.4 10.4h-17l-10.4 -10.4v-17l10.4 -10.4zM892.7 1507.4h17l10.4 10.4v17l-10.4 10.4h-17l-10.4 -10.4v-17l10.4 -10.4zM897.7 1510.5h17l10.4 10.4v17l-10.4 10.4h-17l-10.4 -10.4v-17l10.4 -10.4zM902.7 1513.5h17l10.4 10.4v17l-10.4 10.4h-17l-10.4 -10.4v-17l10.4 -10.4zM907.7 1516.3h17l10.4 10.4v17l-10.4 10.4h-17l-10.4 -10.4v-17l10.4 -10.4zM912.7 1519.1h17l10.4 10.4v17l-10.4 10.4h-17l-10.4 -10.4v-17l10.4 -10.4zM917.7 1521.8h17l10.4 10.4v17l-10.4 10.4h-17l-10.4 -10.4v-17l10.4 -10.4zM922.7 1524.5h17l10.4 10.4v17l-10.4 10.4h-17l-10.4 -10.4v-17l10.4 -10.4zM927.7 1527h17l10.4 10.4v17l-10.4 10.4h-17l-10.4 -10.4v-17l10.4 -10.4zM932.7 1529.4h17l10.4 10.4v17l-10.4 10.4h-17l-10.4 -10.4v-17l10.4 -10.4zM937.7 1531.8h17l10.4 10.4v17l-10.4 10.4h-17l-10.4 -10.4v-17l10.4 -10.4zM942.6 1534.1h17l10.4 10.4v17l-10.4 10.4h-17l-10.4 -10.4v-17l10.4 -10.4zM947.6 1536.3h17l10.4 10.4v17l-10.4 10.4h-17l-10.4 -10.4v-17l10.4 -10.4zM952.6 1538.5h17l10.4 10.4v17l-10.4 10.4h-17l-10.4 -10.4v-17l10.4 -10.4zM957.6 1540.6h17l10.4 10.4v17l-10.4 10.4h-17l-10.4 -10.4v-17l10.4 -10.4zM962.6 1542.6h17l10.4 10.4v17l-10.4 10.4h-17l-10.4 -10.4v-17l10.4 -10.4zM967.6 1544.5h17l10.4 10.4v17l-10.4 10.4h-17l-10.4 -10.4v-17l10.4 -10.4zM972.6 1546.4h17l10.4 10.4v17l-10.4 10.4h-17l-10.4 -10.4v-17l10.4 -10.4zM977.6 1548.2h17l10.4 10.4v17l-10.4 10.4h-17l-10.4 -10.4v-17l10.4 -10.4zM982.6 1550h17l10.4 10.4v17l-10.4 10.4h-17l-10.4 -10.4v-17l10.4 -10.4zM987.6 1551.7h17l10.4 10.4v17l-10.4 10.4h-17l-10.4 -10.4v-17l10.4 -10.4zM992.6 1553.3h17l10.4 10.4v17l-10.4 10.4h-17l-10.4 -10.4v-17l10.4 -10.4zM997.6 1554.9h17l10.4 10.4v17l-10.4 10.4h-17l-10.4 -10.4v-17l10.4 -10.4zM1002.6 1556.4h17l10.4 10.4v17l-10.4 10.4h-17l-10.4 -10.4v-17l10.4 -10.4zM1007.6 1557.9h17l10.4 10.4v17l-10.4 10.4h-17l-10.4 -10.4v-17l10.4 -10.4zM1012.6 1559.4h17l10.4 10.4v17l-10.4 10.4h-17l-10.4 -10.4v-17l10.4 -10.4zM1017.6 1560.8h17l10.4 10.4v17l-10.4 10.4h-17l-10.4 -10.4v-17l10.4 -10.4zM1022.5 1562.1h17l10.4 10.4v17l-10.4 10.4h-17l-10.4 -10.4v-17l10.4 -10.4zM1027.5 1563.4h17l10.4 10.4v17l-10.4 10.4h-17l-10.4 -10.4v-17l10.4 -10.4zM1032.5 1564.7h17l10.4 10.4v17l-10.4 10.4h-17l-10.4 -10.4v-17l10.4 -10.4zM1037.5 1565.9h17l10.4 10.4v17l-10.4 10.4h-17l-10.4 -10.4v-17l10.4 -10.4zM1042.5 1567.1h17l10.4 10.4v17l-10.4 10.4h-17l-10.4 -10.4v-17l10.4 -10.4zM1047.5 1568.2h17l10.4 10.4v17l-10.4 10.4h-17l-10.4 -10.4v-17l10.4 -10.4zM1052.5 1569.3h17l10.4 10.4v17l-10.4 10.4h-17l-10.4 -10.4v-17l10.4 -10.4zM1057.5 1570.4h17l10.4 10.4v17l-10.4 10.4h-17l-10.4 -10.4v-17l10.4 -10.4zM1062.5 1571.4h17l10.4 10.4v17l-10.4 10.4h-17l-10.4 -10.4v-17l10.4 -10.4zM1067.5 1572.4h17l10.4 10.4v17l-10.4 10.4h-17l-10.4 -10.4v-17l10.4 -10.4zM1072.5 1573.4h17l10.4 10.4v17l-10.4 10.4h-17l-10.4 -10.4v-17l10.4 -10.4zM1077.5 1574.4h17l10.4 10.4v17l-10.4 10.4h-17l-10.4 -10.4v-17l10.4 -10.4zM1082.5 1575.3h17l10.4 10.4v17l-10.4 10.4h-17l-10.4 -10.4v-17l10.4 -10.4zM1087.5 1576.1h17l10.4 10.4v17l-10.4 10.4h-17l-10.4 -10.4v-17l10.4 -10.4zM1092.5 1577h17l10.4 10.4v17l-10.4 10.4h-17l-10.4 -10.4v-17l10.4 -10.4zM1097.5 1577.8h17l10.4 10.4v17l-10.4 10.4h-17l-10.4 -10.4v-17l10.4 -10.4zM1102.5 1578.6h17l10.4 10.4v17l-10.4 10.4h-17l-10.4 -10.4v-17l10.4 -10.4zM1107.4 1579.4h17l10.4 10.4v17l-10.4 10.4h-17l-10.4 -10.4v-17l10.4 -10.4zM1112.4 1580.2h17l10.4 10.4v17l-10.4 10.4h-17l-10.4 -10.4v-17l10.4 -10.4zM1117.4 1580.9h17l10.4 10.4v17l-10.4 10.4h-17l-10.4 -10.4v-17l10.4 -10.4zM1122.4 1581.6h17l10.4 10.4v17l-10.4 10.4h-17l-10.4 -10.4v-17l10.4 -10.4zM1127.4 1582.3h17l10.4 10.4v17l-10.4 10.4h-17l-10.4 -10.4v-17l10.4 -10.4zM1132.4 1583h17l10.4 10.4v17l-10.4 10.4h-17l-10.4 -10.4v-17l10.4 -10.4zM1137.4 1583.6h17l10.4 10.4v17l-10.4 10.4h-17l-10.4 -10.4v-17l10.4 -10.4zM1142.4 1584.2h17l10.4 10.4v17l-10.4 10.4h-17l-10.4 -10.4v-17l10.4 -10.4zM1147.4 1584.8h17l10.4 10.4v17l-10.4 10.4h-17l-10.4 -10.4v-17l10.4 -10.4zM1152.4 1585.4h17l10.4 10.4v17l-10.4 10.4h-17l-10.4 -10.4v-17l10.4 -10.4zM1157.4 1586h17l10.4 10.4v17l-10.4 10.4h-17l-10.4 -10.4v-17l10.4 -10.4zM1162.4 1586.5h17l10.4 10.4v17l-10.4 10.4h-17l-10.4 -10.4v-17l10.4 -10.4zM1167.4 1587.1h17l10.4 10.4v17l-10.4 10.4h-17l-10.4 -10.4v-17l10.4 -10.4zM1172.4 1587.6h17l10.4 10.4v17l-10.4 10.4h-17l-10.4 -10.4v-17l10.4 -10.4zM1177.4 1588.1h17l10.4 10.4v17l-10.4 10.4h-17l-10.4 -10.4v-17l10.4 -10.4zM1182.4 1588.6h17l10.4 10.4v17l-10.4 10.4h-17l-10.4 -10.4v-17l10.4 -10.4zM1187.3 1589.1h17l10.4 10.4v17l-10.4 10.4h-17l-10.4 -10.4v-17l10.4 -10.4zM1192.3 1589.5h17l10.4 10.4v17l-10.4 10.4h-17l-10.4 -10.4v-17l10.4 -10.4zM1197.3 1590h17l10.4 10.4v17l-10.4 10.4h-17l-10.4 -10.4v-17l10.4 -10.4zM1202.3 1590.4h17l10.4 10.4v17l-10.4 10.4h-17l-10.4 -10.4v-17l10.4 -10.4zM1207.3 1590.8h17l10.4 10.4v17l-10.4 10.4h-17l-10.4 -10.4v-17l10.4 -10.4zM1212.3 1591.3h17l10.4 10.4v17l-10.4 10.4h-17l-10.4 -10.4v-17l10.4 -10.4zM1217.3 1591.7h17l10.4 10.4v17l-10.4 10.4h-17l-10.4 -10.4v-17l10.4 -10.4zM1222.3 1592h17l10.4 10.4v17l-10.4 10.4h-17l-10.4 -10.4v-17l10.4 -10.4zM1227.3 1592.4h17l10.4 10.4v17l-10.4 10.4h-17l-10.4 -10.4v-17l10.4 -10.4zM1232.3 1592.8h17l10.4 10.4v17l-10.4 10.4h-17l-10.4 -10.4v-17l10.4 -10.4zM1237.3 1593.1h17l10.4 10.4v17l-10.4 10.4h-17l-10.4 -10.4v-17l10.4 -10.4zM1242.3 1593.5h17l10.4 10.4v17l-10.4 10.4h-17l-10.4 -10.4v-17l10.4 -10.4zM1247.3 1593.8h17l10.4 10.4v17l-10.4 10.4h-17l-10.4 -10.4v-17l10.4 -10.4zM1252.3 1594.2h17l10.4 10.4v17l-10.4 10.4h-17l-10.4 -10.4v-17l10.4 -10.4zM1257.3 1594.5h17l10.4 10.4v17l-10.4 10.4h-17l-10.4 -10.4v-17l10.4 -10.4zM1262.3 1594.8h17l10.4 10.4v17l-10.4 10.4h-17l-10.4 -10.4v-17l10.4 -10.4zM1267.2 1595.1h17l10.4 10.4v17l-10.4 10.4h-17l-10.4 -10.4v-17l10.4 -10.4zM1272.2 1595.4h17l10.4 10.4v17l-10.4 10.4h-17l-10.4 -10.4v-17l10.4 -10.4zM1277.2 1595.7h17l10.4 10.4v17l-10.4 10.4h-17l-10.4 -10.4v-17l10.4 -10.4zM1282.2 1595.9h17l10.4 10.4v17l-10.4 10.4h-17l-10.4 -10.4v-17l10.4 -10.4zM1287.2 1596.2h17l10.4 10.4v17l-10.4 10.4h-17l-10.4 -10.4v-17l10.4 -10.4zM1292.2 1596.5h17l10.4 10.4v17l-10.4 10.4h-17l-10.4 -10.4v-17l10.4 -10.4zM1297.2 1596.7h17l10.4 10.4v17l-10.4 10.4h-17l-10.4 -10.4v-17l10.4 -10.4zM1302.2 1597h17l10.4 10.4v17l-10.4 10.4h-17l-10.4 -10.4v-17l10.4 -10.4zM1307.2 1597.2h17l10.4 10.4v17l-10.4 10.4h-17l-10.4 -10.4v-17l10.4 -10.4zM1312.2 1597.4h17l10.4 10.4v17l-10.4 10.4h-17l-10.4 -10.4v-17l10.4 -10.4zM1317.2 1597.7h17l10.4 10.4v17l-10.4 10.4h-17l-10.4 -10.4v-17l10.4 -10.4zM1322.2 1597.9h17l10.4 10.4v17l-10.4 10.4h-17l-10.4 -10.4v-17l10.4 -10.4zM1327.2 1598.1h17l10.4 10.4v17l-10.4 10.4h-17l-10.4 -10.4v-17l10.4 -10.4zM1332.2 1598.3h17l10.4 10.4v17l-10.4 10.4h-17l-10.4 -10.4v-17l10.4 -10.4zM1337.2 1598.5h17l10.4 10.4v17l-10.4 10.4h-17l-10.4 -10.4v-17l10.4 -10.4zM1342.2 1598.7h17l10.4 10.4v17l-10.4 10.4h-17l-10.4 -10.4v-17l10.4 -10.4zM1347.2 1598.9h17l10.4 10.4v17l-10.4 10.4h-17l-10.4 -10.4v-17l10.4 -10.4zM1352.1 1599.1h17l10.4 10.4v17l-10.4 10.4h-17l-10.4 -10.4v-17l10.4 -10.4zM1357.1 1599.3h17l10.4 10.4v17l-10.4 10.4h-17l-10.4 -10.4v-17l10.4 -10.4zM1362.1 1599.5h17l10.4 10.4v17l-10.4 10.4h-17l-10.4 -10.4v-17l10.4 -10.4zM1367.1 1599.6h17l10.4 10.4v17l-10.4 10.4h-17l-10.4 -10.4v-17l10.4 -10.4zM1372.1 1599.8h17l10.4 10.4v17l-10.4 10.4h-17l-10.4 -10.4v-17l10.4 -10.4zM1377.1 1600h17l10.4 10.4v17l-10.4 10.4h-17l-10.4 -10.4v-17l10.4 -10.4zM1382.1 1600.1h17l10.4 10.4v17l-10.4 10.4h-17l-10.4 -10.4v-17l10.4 -10.4zM1387.1 1600.3h17l10.4 10.4v17l-10.4 10.4h-17l-10.4 -10.4v-17l10.4 -10.4zM1392.1 1600.5h17l10.4 10.4v17l-10.4 10.4h-17l-10.4 -10.4v-17l10.4 -10.4zM1397.1 1600.6h17l10.4 10.4v17l-10.4 10.4h-17l-10.4 -10.4v-17l10.4 -10.4zM1402.1 1600.8h17l10.4 10.4v17l-10.4 10.4h-17l-10.4 -10.4v-17l10.4 -10.4zM1407.1 1600.9h17l10.4 10.4v17l-10.4 10.4h-17l-10.4 -10.4v-17l10.4 -10.4zM1412.1 1601h17l10.4 10.4v17l-10.4 10.4h-17l-10.4 -10.4v-17l10.4 -10.4zM1417.1 1601.2h17l10.4 10.4v17l-10.4 10.4h-17l-10.4 -10.4v-17l10.4 -10.4zM1422.1 1601.3h17l10.4 10.4v17l-10.4 10.4h-17l-10.4 -10.4v-17l10.4 -10.4zM1427.1 1601.4h17l10.4 10.4v17l-10.4 10.4h-17l-10.4 -10.4v-17l10.4 -10.4zM1432 1601.6h17l10.4 10.4v17l-10.4 10.4h-17l-10.4 -10.4v-17l10.4 -10.4zM1437 1601.7h17l10.4 10.4v17l-10.4 10.4h-17l-10.4 -10.4v-17l10.4 -10.4zM1442 1601.8h17l10.4 10.4v17l-10.4 10.4h-17l-10.4 -10.4v-17l10.4 -10.4zM1447 1601.9h17l10.4 10.4v17l-10.4 10.4h-17l-10.4 -10.4v-17l10.4 -10.4zM1452 1602h17l10.4 10.4v17l-10.4 10.4h-17l-10.4 -10.4v-17l10.4 -10.4zM1457 1602.1h17l10.4 10.4v17l-10.4 10.4h-17l-10.4 -10.4v-17l10.4 -10.4zM1462 1602.3h17l10.4 10.4v17l-10.4 10.4h-17l-10.4 -10.4v-17l10.4 -10.4zM1467 1602.4h17l10.4 10.4v17l-10.4 10.4h-17l-10.4 -10.4v-17l10.4 -10.4zM1472 1602.5h17l10.4 10.4v17l-10.4 10.4h-17l-10.4 -10.4v-17l10.4 -10.4zM1477 1602.6h17l10.4 10.4v17l-10.4 10.4h-17l-10.4 -10.4v-17l10.4 -10.4zM1482 1602.7h17l10.4 10.4v17l-10.4 10.4h-17l-10.4 -10.4v-17l10.4 -10.4zM1487 1602.8h17l10.4 10.4v17l-10.4 10.4h-17l-10.4 -10.4v-17l10.4 -10.4zM1492 1602.9h17l10.4 10.4v17l-10.4 10.4h-17l-10.4 -10.4v-17l10.4 -10.4zM1497 1603h17l10.4 10.4v17l-10.4 10.4h-17l-10.4 -10.4v-17l10.4 -10.4zM1502 1603h17l10.4 10.4v17l-10.4 10.4h-17l-10.4 -10.4v-17l10.4 -10.4zM1507 1603.1h17l10.4 10.4v17l-10.4 10.4h-17l-10.4 -10.4v-17l10.4 -10.4zM1511.9 1603.2h17l10.4 10.4v17l-10.4 10.4h-17l-10.4 -10.4v-17l10.4 -10.4zM1516.9 1603.3h17l10.4 10.4v17l-10.4 10.4h-17l-10.4 -10.4v-17l10.4 -10.4zM1521.9 1603.4h17l10.4 10.4v17l-10.4 10.4h-17l-10.4 -10.4v-17l10.4 -10.4zM1526.9 1603.5h17l10.4 10.4v17l-10.4 10.4h-17l-10.4 -10.4v-17l10.4 -10.4zM1531.9 1603.5h17l10.4 10.4v17l-10.4 10.4h-17l-10.4 -10.4v-17l10.4 -10.4zM1536.9 1603.6h17l10.4 10.4v17l-10.4 10.4h-17l-10.4 -10.4v-17l10.4 -10.4zM1541.9 1603.7h17l10.4 10.4v17l-10.4 10.4h-17l-10.4 -10.4v-17l10.4 -10.4zM1546.9 1603.8h17l10.4 10.4v17l-10.4 10.4h-17l-10.4 -10.4v-17l10.4 -10.4zM1551.9 1603.8h17l10.4 10.4v17l-10.4 10.4h-17l-10.4 -10.4v-17l10.4 -10.4zM1556.9 1603.9h17l10.4 10.4v17l-10.4 10.4h-17l-10.4 -10.4v-17l10.4 -10.4zM1561.9 1604h17l10.4 10.4v17l-10.4 10.4h-17l-10.4 -10.4v-17l10.4 -10.4zM1566.9 1604h17l10.4 10.4v17l-10.4 10.4h-17l-10.4 -10.4v-17l10.4 -10.4zM1571.9 1604.1h17l10.4 10.4v17l-10.4 10.4h-17l-10.4 -10.4v-17l10.4 -10.4zM1576.9 1604.2h17l10.4 10.4v17l-10.4 10.4h-17l-10.4 -10.4v-17l10.4 -10.4zM1581.9 1604.2h17l10.4 10.4v17l-10.4 10.4h-17l-10.4 -10.4v-17l10.4 -10.4zM1586.9 1604.3h17l10.4 10.4v17l-10.4 10.4h-17l-10.4 -10.4v-17l10.4 -10.4zM1591.9 1604.4h17l10.4 10.4v17l-10.4 10.4h-17l-10.4 -10.4v-17l10.4 -10.4zM1596.8 1604.4h17l10.4 10.4v17l-10.4 10.4h-17l-10.4 -10.4v-17l10.4 -10.4zM1601.8 1604.5h17l10.4 10.4v17l-10.4 10.4h-17l-10.4 -10.4v-17l10.4 -10.4zM1606.8 1604.5h17l10.4 10.4v17l-10.4 10.4h-17l-10.4 -10.4v-17l10.4 -10.4zM1611.8 1604.6h17l10.4 10.4v17l-10.4 10.4h-17l-10.4 -10.4v-17l10.4 -10.4zM1616.8 1604.6h17l10.4 10.4v17l-10.4 10.4h-17l-10.4 -10.4v-17l10.4 -10.4zM1621.8 1604.7h17l10.4 10.4v17l-10.4 10.4h-17l-10.4 -10.4v-17l10.4 -10.4zM1626.8 1604.7h17l10.4 10.4v17l-10.4 10.4h-17l-10.4 -10.4v-17l10.4 -10.4zM1631.8 1604.8h17l10.4 10.4v17l-10.4 10.4h-17l-10.4 -10.4v-17l10.4 -10.4zM1636.8 1604.8h17l10.4 10.4v17l-10.4 10.4h-17l-10.4 -10.4v-17l10.4 -10.4zM1641.8 1604.9h17l10.4 10.4v17l-10.4 10.4h-17l-10.4 -10.4v-17l10.4 -10.4zM1646.8 1604.9h17l10.4 10.4v17l-10.4 10.4h-17l-10.4 -10.4v-17l10.4 -10.4zM1651.8 1605h17l10.4 10.4v17l-10.4 10.4h-17l-10.4 -10.4v-17l10.4 -10.4zM1656.8 1605h17l10.4 10.4v17l-10.4 10.4h-17l-10.4 -10.4v-17l10.4 -10.4zM1661.8 1605.1h17l10.4 10.4v17l-10.4 10.4h-17l-10.4 -10.4v-17l10.4 -10.4zM1666.8 1605.1h17l10.4 10.4v17l-10.4 10.4h-17l-10.4 -10.4v-17l10.4 -10.4zM1671.8 1605.2h17l10.4 10.4v17l-10.4 10.4h-17l-10.4 -10.4v-17l10.4 -10.4zM1676.7 1605.2h17l10.4 10.4v17l-10.4 10.4h-17l-10.4 -10.4v-17l10.4 -10.4zM1681.7 1605.2h17l10.4 10.4v17l-10.4 10.4h-17l-10.4 -10.4v-17l10.4 -10.4zM1686.7 1605.3h17l10.4 10.4v17l-10.4 10.4h-17l-10.4 -10.4v-17l10.4 -10.4zM1691.7 1605.3h17l10.4 10.4v17l-10.4 10.4h-17l-10.4 -10.4v-17l10.4 -10.4zM1696.7 1605.4h17l10.4 10.4v17l-10.4 10.4h-17l-10.4 -10.4v-17l10.4 -10.4zM1701.7 1605.4h17l10.4 10.4v17l-10.4 10.4h-17l-10.4 -10.4v-17l10.4 -10.4zM1706.7 1605.4h17l10.4 10.4v17l-10.4 10.4h-17l-10.4 -10.4v-17l10.4 -10.4zM1711.7 1605.5h17l10.4 10.4v17l-10.4 10.4h-17l-10.4 -10.4v-17l10.4 -10.4zM1716.7 1605.5h17l10.4 10.4v17l-10.4 10.4h-17l-10.4 -10.4v-17l10.4 -10.4zM1721.7 1605.5h17l10.4 10.4v17l-10.4 10.4h-17l-10.4 -10.4v-17l10.4 -10.4zM1726.7 1605.6h17l10.4 10.4v17l-10.4 10.4h-17l-10.4 -10.4v-17l10.4 -10.4zM1731.7 1605.6h17l10.4 10.4v17l-10.4 10.4h-17l-10.4 -10.4v-17l10.4 -10.4zM1736.7 1605.6h17l10.4 10.4v17l-10.4 10.4h-17l-10.4 -10.4v-17l10.4 -10.4zM1741.7 1605.7h17l10.4 10.4v17l-10.4 10.4h-17l-10.4 -10.4v-17l10.4 -10.4zM1746.7 1605.7h17l10.4 10.4v17l-10.4 10.4h-17l-10.4 -10.4v-17l10.4 -10.4zM1751.7 1605.7h17l10.4 10.4v17l-10.4 10.4h-17l-10.4 -10.4v-17l10.4 -10.4zM1756.7 1605.8h17l10.4 10.4v17l-10.4 10.4h-17l-10.4 -10.4v-17l10.4 -10.4zM1761.6 1605.8h17l10.4 10.4v17l-10.4 10.4h-17l-10.4 -10.4v-17l10.4 -10.4zM1766.6 1605.8h17l10.4 10.4v17l-10.4 10.4h-17l-10.4 -10.4v-17l10.4 -10.4zM1771.6 1605.9h17l10.4 10.4v17l-10.4 10.4h-17l-10.4 -10.4v-17l10.4 -10.4zM1776.6 1605.9h17l10.4 10.4v17l-10.4 10.4h-17l-10.4 -10.4v-17l10.4 -10.4zM1781.6 1605.9h17l10.4 10.4v17l-10.4 10.4h-17l-10.4 -10.4v-17l10.4 -10.4zM1786.6 1605.9h17l10.4 10.4v17l-10.4 10.4h-17l-10.4 -10.4v-17l10.4 -10.4zM1791.6 1606h17l10.4 10.4v17l-10.4 10.4h-17l-10.4 -10.4v-17l10.4 -10.4zM1796.6 1606h17l10.4 10.4v17l-10.4 10.4h-17l-10.4 -10.4v-17l10.4 -10.4zM1801.6 1606h17l10.4 10.4v17l-10.4 10.4h-17l-10.4 -10.4v-17l10.4 -10.4zM1806.6 1606h17l10.4 10.4v17l-10.4 10.4h-17l-10.4 -10.4v-17l10.4 -10.4zM1811.6 1606.1h17l10.4 10.4v17l-10.4 10.4h-17l-10.4 -10.4v-17l10.4 -10.4zM1816.6 1606.1h17l10.4 10.4v17l-10.4 10.4h-17l-10.4 -10.4v-17l10.4 -10.4zM1821.6 1606.1h17l10.4 10.4v17l-10.4 10.4h-17l-10.4 -10.4v-17l10.4 -10.4zM1826.6 1606.1h17l10.4 10.4v17l-10.4 10.4h-17l-10.4 -10.4v-17l10.4 -10.4zM1831.6 1606.2h17l10.4 10.4v17l-10.4 10.4h-17l-10.4 -10.4v-17l10.4 -10.4zM1836.6 1606.2h17l10.4 10.4v17l-10.4 10.4h-17l-10.4 -10.4v-17l10.4 -10.4zM1841.5 1606.2h17l10.4 10.4v17l-10.4 10.4h-17l-10.4 -10.4v-17l10.4 -10.4zM1846.5 1606.2h17l10.4 10.4v17l-10.4 10.4h-17l-10.4 -10.4v-17l10.4 -10.4zM1851.5 1606.2h17l10.4 10.4v17l-10.4 10.4h-17l-10.4 -10.4v-17l10.4 -10.4zM1856.5 1606.3h17l10.4 10.4v17l-10.4 10.4h-17l-10.4 -10.4v-17l10.4 -10.4zM1861.5 1606.3h17l10.4 10.4v17l-10.4 10.4h-17l-10.4 -10.4v-17l10.4 -10.4zM1866.5 1606.3h17l10.4 10.4v17l-10.4 10.4h-17l-10.4 -10.4v-17l10.4 -10.4zM1871.5 1606.3h17l10.4 10.4v17l-10.4 10.4h-17l-10.4 -10.4v-17l10.4 -10.4zM1876.5 1606.3h17l10.4 10.4v17l-10.4 10.4h-17l-10.4 -10.4v-17l10.4 -10.4zM1881.5 1606.4h17l10.4 10.4v17l-10.4 10.4h-17l-10.4 -10.4v-17l10.4 -10.4zM1886.5 1606.4h17l10.4 10.4v17l-10.4 10.4h-17l-10.4 -10.4v-17l10.4 -10.4zM1891.5 1606.4h17l10.4 10.4v17l-10.4 10.4h-17l-10.4 -10.4v-17l10.4 -10.4zM1896.5 1606.4h17l10.4 10.4v17l-10.4 10.4h-17l-10.4 -10.4v-17l10.4 -10.4zM1901.5 1606.4h17l10.4 10.4v17l-10.4 10.4h-17l-10.4 -10.4v-17l10.4 -10.4zM1906.5 1606.5h17l10.4 10.4v17l-10.4 10.4h-17l-10.4 -10.4v-17l10.4 -10.4zM1911.5 1606.5h17l10.4 10.4v17l-10.4 10.4h-17l-10.4 -10.4v-17l10.4 -10.4zM1916.5 1606.5h17l10.4 10.4v17l-10.4 10.4h-17l-10.4 -10.4v-17l10.4 -10.4zM1921.4 1606.5h17l10.4 10.4v17l-10.4 10.4h-17l-10.4 -10.4v-17l10.4 -10.4zM1926.4 1606.5h17l10.4 10.4v17l-10.4 10.4h-17l-10.4 -10.4v-17l10.4 -10.4zM1931.4 1606.5h17l10.4 10.4v17l-10.4 10.4h-17l-10.4 -10.4v-17l10.4 -10.4zM1936.4 1606.6h17l10.4 10.4v17l-10.4 10.4h-17l-10.4 -10.4v-17l10.4 -10.4zM1941.4 1606.6h17l10.4 10.4v17l-10.4 10.4h-17l-10.4 -10.4v-17l10.4 -10.4zM1946.4 1606.6h17l10.4 10.4v17l-10.4 10.4h-17l-10.4 -10.4v-17l10.4 -10.4zM1951.4 1606.6h17l10.4 10.4v17l-10.4 10.4h-17l-10.4 -10.4v-17l10.4 -10.4zM1956.4 1606.6h17l10.4 10.4v17l-10.4 10.4h-17l-10.4 -10.4v-17l10.4 -10.4zM1961.4 1606.6h17l10.4 10.4v17l-10.4 10.4h-17l-10.4 -10.4v-17l10.4 -10.4zM1966.4 1606.6h17l10.4 10.4v17l-10.4 10.4h-17l-10.4 -10.4v-17l10.4 -10.4zM1971.4 1606.7h17l10.4 10.4v17l-10.4 10.4h-17l-10.4 -10.4v-17l10.4 -10.4zM1976.4 1606.7h17l10.4 10.4v17l-10.4 10.4h-17l-10.4 -10.4v-17l10.4 -10.4zM1981.4 1606.7h17l10.4 10.4v17l-10.4 10.4h-17l-10.4 -10.4v-17l10.4 -10.4zM1986.4 1606.7h17l10.4 10.4v17l-10.4 10.4h-17l-10.4 -10.4v-17l10.4 -10.4zM1991.4 1606.7h17l10.4 10.4v17l-10.4 10.4h-17l-10.4 -10.4v-17l10.4 -10.4zM1996.4 1606.7h17l10.4 10.4v17l-10.4 10.4h-17l-10.4 -10.4v-17l10.4 -10.4zM2001.4 1606.7h17l10.4 10.4v17l-10.4 10.4h-17l-10.4 -10.4v-17l10.4 -10.4zM2006.3 1606.7h17l10.4 10.4v17l-10.4 10.4h-17l-10.4 -10.4v-17l10.4 -10.4zM2011.3 1606.8h17l10.4 10.4v17l-10.4 10.4h-17l-10.4 -10.4v-17l10.4 -10.4zM2016.3 1606.8h17l10.4 10.4v17l-10.4 10.4h-17l-10.4 -10.4v-17l10.4 -10.4zM2021.3 1606.8h17l10.4 10.4v17l-10.4 10.4h-17l-10.4 -10.4v-17l10.4 -10.4zM2026.3 1606.8h17l10.4 10.4v17l-10.4 10.4h-17l-10.4 -10.4v-17l10.4 -10.4zM2031.3 1606.8h17l10.4 10.4v17l-10.4 10.4h-17l-10.4 -10.4v-17l10.4 -10.4zM2036.3 1606.8h17l10.4 10.4v17l-10.4 10.4h-17l-10.4 -10.4v-17l10.4 -10.4zM2041.3 1606.8h17l10.4 10.4v17l-10.4 10.4h-17l-10.4 -10.4v-17l10.4 -10.4zM2046.3 1606.8h17l10.4 10.4v17l-10.4 10.4h-17l-10.4 -10.4v-17l10.4 -10.4zM2051.3 1606.8h17l10.4 10.4v17l-10.4 10.4h-17l-10.4 -10.4v-17l10.4 -10.4zM2056.3 1606.9h17l10.4 10.4v17l-10.4 10.4h-17l-10.4 -10.4v-17l10.4 -10.4zM2061.3 1606.9h17l10.4 10.4v17l-10.4 10.4h-17l-10.4 -10.4v-17l10.4 -10.4zM2066.3 1606.9h17l10.4 10.4v17l-10.4 10.4h-17l-10.4 -10.4v-17l10.4 -10.4zM2071.3 1606.9h17l10.4 10.4v17l-10.4 10.4h-17l-10.4 -10.4v-17l10.4 -10.4zM2076.3 1606.9h17l10.4 10.4v17l-10.4 10.4h-17l-10.4 -10.4v-17l10.4 -10.4zM2081.3 1606.9h17l10.4 10.4v17l-10.4 10.4h-17l-10.4 -10.4v-17l10.4 -10.4zM2086.2 1606.9h17l10.4 10.4v17l-10.4 10.4h-17l-10.4 -10.4v-17l10.4 -10.4zM2091.2 1606.9h17l10.4 10.4v17l-10.4 10.4h-17l-10.4 -10.4v-17l10.4 -10.4zM2096.2 1606.9h17l10.4 10.4v17l-10.4 10.4h-17l-10.4 -10.4v-17l10.4 -10.4zM2101.2 1606.9h17l10.4 10.4v17l-10.4 10.4h-17l-10.4 -10.4v-17l10.4 -10.4zM2106.2 1607h17l10.4 10.4v17l-10.4 10.4h-17l-10.4 -10.4v-17l10.4 -10.4zM2111.2 1607h17l10.4 10.4v17l-10.4 10.4h-17l-10.4 -10.4v-17l10.4 -10.4zM2116.2 1607h17l10.4 10.4v17l-10.4 10.4h-17l-10.4 -10.4v-17l10.4 -10.4zM2121.2 1607h17l10.4 10.4v17l-10.4 10.4h-17l-10.4 -10.4v-17l10.4 -10.4zM2126.2 1607h17l10.4 10.4v17l-10.4 10.4h-17l-10.4 -10.4v-17l10.4 -10.4zM2131.2 1607h17l10.4 10.4v17l-10.4 10.4h-17l-10.4 -10.4v-17l10.4 -10.4zM2136.2 1607h17l10.4 10.4v17l-10.4 10.4h-17l-10.4 -10.4v-17l10.4 -10.4zM2141.2 1607h17l10.4 10.4v17l-10.4 10.4h-17l-10.4 -10.4v-17l10.4 -10.4zM2146.2 1607h17l10.4 10.4v17l-10.4 10.4h-17l-10.4 -10.4v-17l10.4 -10.4zM2151.2 1607h17l10.4 10.4v17l-10.4 10.4h-17l-10.4 -10.4v-17l10.4 -10.4zM2156.2 1607h17l10.4 10.4v17l-10.4 10.4h-17l-10.4 -10.4v-17l10.4 -10.4zM2161.2 1607h17l10.4 10.4v17l-10.4 10.4h-17l-10.4 -10.4v-17l10.4 -10.4zM2166.2 1607h17l10.4 10.4v17l-10.4 10.4h-17l-10.4 -10.4v-17l10.4 -10.4zM2171.1 1607.1h17l10.4 10.4v17l-10.4 10.4h-17l-10.4 -10.4v-17l10.4 -10.4zM2176.1 1607.1h17l10.4 10.4v17l-10.4 10.4h-17l-10.4 -10.4v-17l10.4 -10.4zM2181.1 1607.1h17l10.4 10.4v17l-10.4 10.4h-17l-10.4 -10.4v-17l10.4 -10.4zM2186.1 1607.1h17l10.4 10.4v17l-10.4 10.4h-17l-10.4 -10.4v-17l10.4 -10.4zM2191.1 1607.1h17l10.4 10.4v17l-10.4 10.4h-17l-10.4 -10.4v-17l10.4 -10.4zM2196.1 1607.1h17l10.4 10.4v17l-10.4 10.4h-17l-10.4 -10.4v-17l10.4 -10.4zM2201.1 1607.1h17l10.4 10.4v17l-10.4 10.4h-17l-10.4 -10.4v-17l10.4 -10.4zM2206.1 1607.1h17l10.4 10.4v17l-10.4 10.4h-17l-10.4 -10.4v-17l10.4 -10.4zM2211.1 1607.1h17l10.4 10.4v17l-10.4 10.4h-17l-10.4 -10.4v-17l10.4 -10.4zM2216.1 1607.1h17l10.4 10.4v17l-10.4 10.4h-17l-10.4 -10.4v-17l10.4 -10.4zM2221.1 1607.1h17l10.4 10.4v17l-10.4 10.4h-17l-10.4 -10.4v-17l10.4 -10.4zM2226.1 1607.1h17l10.4 10.4v17l-10.4 10.4h-17l-10.4 -10.4v-17l10.4 -10.4zM2231.1 1607.1h17l10.4 10.4v17l-10.4 10.4h-17l-10.4 -10.4v-17l10.4 -10.4zM2236.1 1607.1h17l10.4 10.4v17l-10.4 10.4h-17l-10.4 -10.4v-17l10.4 -10.4zM2241.1 1607.1h17l10.4 10.4v17l-10.4 10.4h-17l-10.4 -10.4v-17l10.4 -10.4zM2246.1 1607.1h17l10.4 10.4v17l-10.4 10.4h-17l-10.4 -10.4v-17l10.4 -10.4zM2251 1607.2h17l10.4 10.4v17l-10.4 10.4h-17l-10.4 -10.4v-17l10.4 -10.4zM2256 1607.2h17l10.4 10.4v17l-10.4 10.4h-17l-10.4 -10.4v-17l10.4 -10.4zM2261 1607.2h17l10.4 10.4v17l-10.4 10.4h-17l-10.4 -10.4v-17l10.4 -10.4zM2266 1607.2h17l10.4 10.4v17l-10.4 10.4h-17l-10.4 -10.4v-17l10.4 -10.4zM2271 1607.2h17l10.4 10.4v17l-10.4 10.4h-17l-10.4 -10.4v-17l10.4 -10.4zM2276 1607.2h17l10.4 10.4v17l-10.4 10.4h-17l-10.4 -10.4v-17l10.4 -10.4zM2281 1607.2h17l10.4 10.4v17l-10.4 10.4h-17l-10.4 -10.4v-17l10.4 -10.4zM2286 1607.2h17l10.4 10.4v17l-10.4 10.4h-17l-10.4 -10.4v-17l10.4 -10.4z" fill="#00ff00"/>
<path d="M256 1627 277 1627 281 1600 287 1570 295 1553 303 1537 313 1520 322 1502 329 1485 336 1469 342.5 1451 351.5 1434 363 1424 374.3 1416.8 382 1416.8 401 1421.8 416 1429 431.4 1439.6 446 1453 460 1467.5 473.8 1476 490 1479.5 500 1480.5 510 1479 520.6 1474 534 1458 546.5 1440 556.6 1419 564 1398 572 1372 580.5 1345 587 1315 594 1280 600 1252 605 1222 610 1196 615 1175 620 1158 628 1118 634 1090 642 1055 648 1030 657 1000 663.6 984 669.6 961 678.3 962 685.2 955.5 692.2 959 699.5 972.5 704 985 710 1014 718 1054 724.4 1077.6 728.4 1096 735.9 1134 742.8 1170 750.3 1207 755 1240 759.1 1263 765.5 1300 772 1327.5 778.3 1352 783.9 1371 790.3 1388 800 1408 807.8 1422 819.8 1438.4 844.1 1467.4 868.3 1491 901.7 1513 935.1 1532 967.4 1549 1003 1564 1038.8 1575.7 1074.5 1586 1112.5 1594 1149.4 1600 1240 1608.8 1330 1615.7 1500 1620.5 1800 1625 2297.5 1626.4" stroke="#000" stroke-width="13" fill="none" stroke-dasharray="38.57 8.64 19.89 8.24" stroke-dashoffset="-2.1" stroke-linejoin="miter" stroke-miterlimit="4"/>
<rect x="835.8" y="113" width="1410.2" height="318.5" fill="#fff" stroke="#262626" stroke-width="9.6"/>
<path d="M854.8 171.3H1044" stroke="#0000ff" stroke-width="13"/>
<circle cx="949" cy="171.3" r="18" stroke="#0000ff" stroke-width="14.5" fill="none"/>
<path d="M854.8 272.5H1044" stroke="#00ff00" stroke-width="13"/>
<path d="M940.5 253.6h17l10.4 10.4v17l-10.4 10.4h-17l-10.4 -10.4v-17l10.4 -10.4z" fill="#00ff00"/>
<path d="M854.8 373.5H1044" stroke="#000" stroke-width="13" stroke-dasharray="38.4 8.6 19.8 8.2"/>
<text class="lg" x="1058" y="200.7">Coherent S-band radar</text>
<text class="lg" x="1058" y="301.3">Simulation (without broken wave)</text>
<text class="lg" x="1058" y="403.2">Simulation (with broken wave)</text>
</svg></body></html>
